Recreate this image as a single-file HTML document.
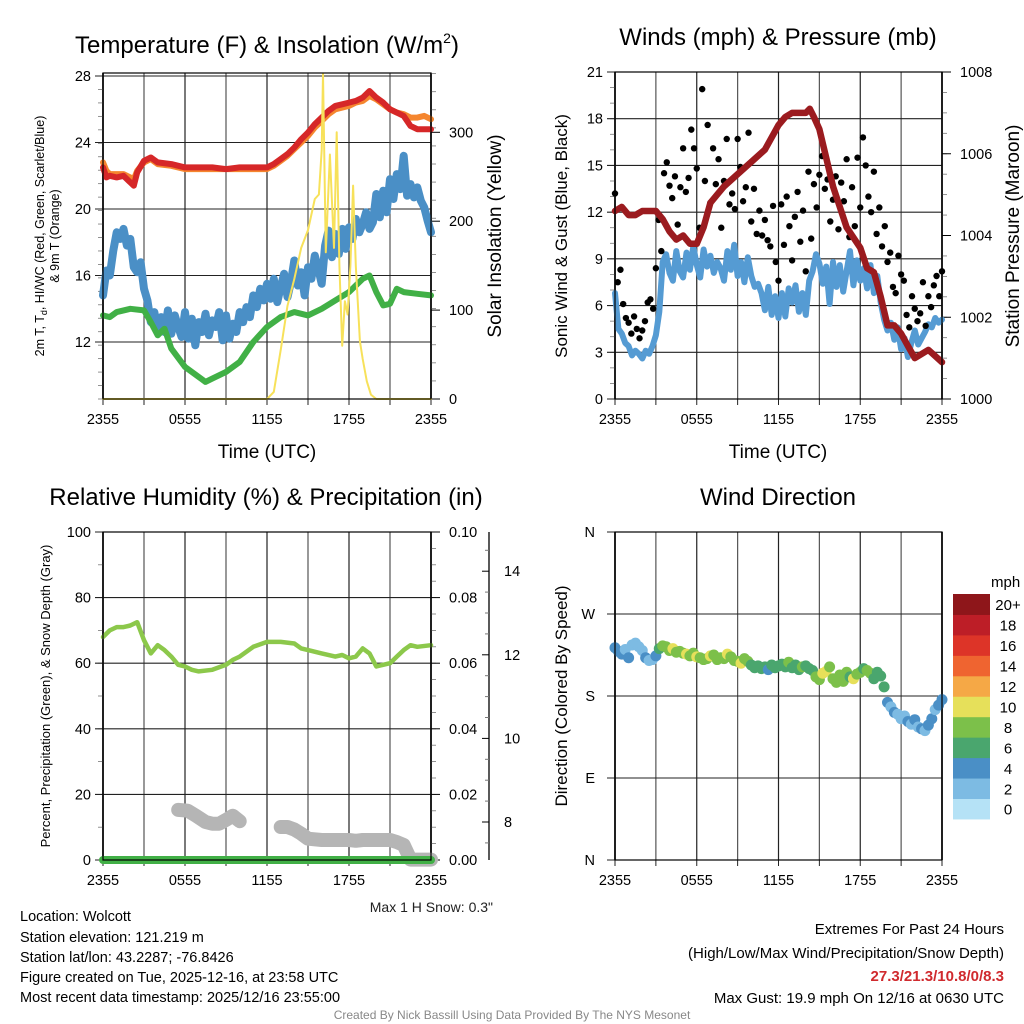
<!DOCTYPE html>
<html><head><meta charset="utf-8">
<style>
html,body{margin:0;padding:0;background:#fff;}
svg{display:block;font-family:"Liberation Sans",Arial,sans-serif;}
</style></head>
<body>
<svg id="chart" width="1024" height="1024" viewBox="0 0 1024 1024" xmlns="http://www.w3.org/2000/svg">
<rect width="1024" height="1024" fill="#fff"/>
<g id="layer"></g>
<!-- titles -->
<text x="267" y="53" font-size="24" text-anchor="middle">Temperature (F) &amp; Insolation (W/m<tspan font-size="14" dy="-10">2</tspan><tspan dy="10">)</tspan></text>
<text x="778" y="45" font-size="24" text-anchor="middle">Winds (mph) &amp; Pressure (mb)</text>
<text x="266" y="505" font-size="24" text-anchor="middle">Relative Humidity (%) &amp; Precipitation (in)</text>
<text x="778" y="505" font-size="24" text-anchor="middle">Wind Direction</text>
<!-- axis titles -->
<text x="267" y="458" font-size="19" text-anchor="middle">Time (UTC)</text>
<text x="778" y="458" font-size="19" text-anchor="middle">Time (UTC)</text>
<text transform="translate(44,236) rotate(-90)" font-size="12.5" text-anchor="middle"><tspan x="0" y="0">2m T, T<tspan font-size="9" dy="3">d</tspan><tspan dy="-3">, HI/WC (Red, Green, Scarlet/Blue)</tspan></tspan><tspan x="0" y="15">&amp; 9m T (Orange)</tspan></text>
<text transform="translate(501,236) rotate(-90)" font-size="19" text-anchor="middle">Solar Insolation (Yellow)</text>
<text transform="translate(567,236) rotate(-90)" font-size="17" text-anchor="middle">Sonic Wind &amp; Gust (Blue, Black)</text>
<text transform="translate(1019,236) rotate(-90)" font-size="19" text-anchor="middle">Station Pressure (Maroon)</text>
<text transform="translate(50,696) rotate(-90)" font-size="13" text-anchor="middle">Percent, Precipitation (Green), &amp; Snow Depth (Gray)</text>
<text transform="translate(567,696) rotate(-90)" font-size="17" text-anchor="middle">Direction (Colored By Speed)</text>
<text x="493" y="912" font-size="14" text-anchor="end" fill="#222">Max 1 H Snow: 0.3"</text>
<!-- info -->
<g font-size="14.5" fill="#000">
<text x="20" y="921">Location: Wolcott</text>
<text x="20" y="942">Station elevation: 121.219 m</text>
<text x="20" y="962">Station lat/lon: 43.2287; -76.8426</text>
<text x="20" y="982">Figure created on Tue, 2025-12-16, at 23:58 UTC</text>
<text x="20" y="1002">Most recent data timestamp: 2025/12/16 23:55:00</text>
</g>
<g font-size="15" text-anchor="end">
<text x="1004" y="934">Extremes For Past 24 Hours</text>
<text x="1004" y="958">(High/Low/Max Wind/Precipitation/Snow Depth)</text>
<text x="1004" y="981" fill="#d02a2e" font-weight="bold">27.3/21.3/10.8/0/8.3</text>
<text x="1004" y="1003">Max Gust: 19.9 mph On 12/16 at 0630 UTC</text>
</g>
<text x="512" y="1019" font-size="12" fill="#888" text-anchor="middle">Created By Nick Bassill Using Data Provided By The NYS Mesonet</text>
</svg>
<script>
// ---------- data ----------
const timeLabels = ["2355","0555","1155","1755","2355"];
const tempHours = [0,0.25,0.5,1,1.5,2,2.25,2.5,3,3.5,4,5,6,7,8,9,10,11,12,12.5,13,13.5,14,14.5,15,15.5,16,16.5,17,17.5,18,18.5,19,19.5,20,20.5,21,21.5,22,22.5,23,23.5,24];
const temp2m = [22.5,21.9,22,21.9,22,21.6,21.4,22.2,22.9,23.1,22.8,22.7,22.5,22.5,22.5,22.4,22.5,22.5,22.5,22.7,23,23.3,23.7,24.2,24.6,25.1,25.5,25.9,26.2,26.3,26.4,26.5,26.7,27.1,26.7,26.4,26,25.8,25.6,25,24.8,24.8,24.8];
const temp9m = [22.8,22.3,22.1,22.1,22.1,21.9,21.8,22.3,22.8,23,22.7,22.6,22.4,22.4,22.4,22.4,22.4,22.4,22.4,22.6,22.9,23.2,23.6,24,24.4,24.9,25.3,25.7,26,26.1,26.2,26.4,26.5,26.8,26.6,26.3,26,25.8,25.7,25.5,25.5,25.6,25.4];
const dewHours = [0,0.5,1,2,3,3.5,4,4.5,5,6,7,7.5,8,9,10,11,12,13,14,15,16,17,18,19,19.5,20,20.5,21,21.5,22,23,24];
const dewpoint = [13.6,13.5,13.8,14,13.9,13.2,12.4,12.8,11.6,10.5,9.9,9.6,9.8,10.2,10.8,12,12.9,13.5,13.8,13.6,14,14.5,15,15.8,16,15,14.2,14.3,15.2,15,14.9,14.8];
const windChill = [14.8,16.3,16,17.5,18.6,18.2,18.8,17.8,18.2,16.5,16.2,16.8,15.2,
14.5,13.2,13.8,12.8,13.5,12.6,13.9,12.5,13.6,12.9,12.3,13.8,
12.2,13.4,11.8,13.2,12.6,13.7,12.4,13.3,12.9,13.8,12.1,13.6,
12.2,13.1,12.6,13.8,13.2,14.1,13.5,14.8,14.1,15.2,14.5,15.5,
14.6,15.8,14.4,15.3,16.1,14.7,15.6,16.9,15.4,16.2,14.8,16.5,
15.8,17.2,16.4,15.5,17.8,18.7,17.1,18.5,17.3,18.8,17.6,18.9,
18.2,19.4,18.6,19.1,19.8,18.8,19.2,20.9,19.5,21.1,19.8,21.8,
20.6,22.1,21.2,23.2,20.8,21.5,20.7,21.3,20.5,20.1,19.3,18.6];
const solarHours = [0,12,12.5,13,13.5,14,14.5,15,15.5,15.8,16,16.1,16.3,16.6,16.9,17.1,17.3,17.5,17.7,17.9,18.1,18.3,18.5,18.8,19,19.3,19.6,20,24];
const solar = [0,0,8,55,105,135,170,190,225,230,280,366,165,275,170,300,150,60,110,95,150,240,150,65,45,20,5,0,0];
const tempTicks = [12,16,20,24,28];
const solarTicks = [0,100,200,300];

const windSpeed = [6.8,4.5,4.2,3.6,3.4,2.8,3.1,2.9,2.6,3.1,2.9,3.4,4.1,
5.6,8.8,9.3,8.1,7.6,9.5,8.2,7.8,9.4,8.3,9.8,8.6,
7.8,9.6,8.5,9.2,8.1,8.8,8.4,7.6,9.5,8.3,9.9,7.9,
8.8,7.5,9.1,7.9,7.2,7.4,6.8,5.7,7.2,5.4,6.6,5.2,
6.8,5.3,7.1,6.2,7.3,5.6,6.8,5.4,7.6,8.2,9.3,8.7,
7.4,8.5,6.1,8.8,7.2,8.6,6.9,8.2,9.5,7.3,8.9,7.6,
8.4,7.1,8.6,6.8,7.9,6.2,5.1,4.4,4.9,3.8,4.6,3.2,
3.9,2.7,3.6,4.4,3.5,3.9,4.3,4.8,4.6,5.2,4.9,5.1];
const gusts = [13.2,7.5,8.3,6.1,5.2,4.9,4.2,5.3,4.5,3.9,4.4,5.0,6.2,6.4,5.8,
8.4,11.5,9.5,14.5,15.2,13.7,12.9,14.3,11.2,13.6,16.1,13.3,14.2,17.3,16.1,14.8,
11.0,19.9,14.0,17.6,12.6,16.1,13.8,15.4,11.0,14.0,16.7,12.5,13.2,12.2,16.7,
14.9,12.7,13.6,17.1,11.4,13.5,10.6,12.1,10.5,11.5,10.2,9.8,12.4,8.8,7.6,
12.5,9.9,13.0,11.1,8.9,11.7,13.3,10.1,12.1,8.2,14.6,10.3,13.8,12.3,14.4,
15.6,13.5,14.1,11.4,12.8,14.3,10.9,13.9,12.7,15.4,10.4,13.6,11.1,15.5,12.3,
16.8,15.0,13.0,12.0,14.6,10.6,12.3,9.8,11.1,8.8,9.4,7.2,6.8,9.2,8.0,
7.6,5.4,4.6,6.6,5.8,5.0,5.5,7.5,4.7,6.6,5.9,7.3,7.9,6.6,8.2];
const presHours = [0,0.5,1,1.5,2,3,3.5,4,4.5,5,5.5,6,6.5,7,7.5,8,9,10,11,12,12.5,13,14,14.3,14.6,15,15.5,16,17,18,18.5,19,19.5,20,20.5,21,21.5,22,23,24];
const pressure = [1004.6,1004.7,1004.5,1004.5,1004.6,1004.6,1004.4,1004.1,1003.9,1004.0,1003.8,1003.8,1004.2,1004.8,1005.0,1005.2,1005.5,1005.8,1006.1,1006.7,1006.9,1007.0,1007.0,1007.1,1006.9,1006.6,1005.9,1005.2,1004.2,1003.7,1003.2,1003.1,1002.5,1001.8,1001.8,1001.6,1001.3,1001.0,1001.2,1000.9];
const windTicks = [0,3,6,9,12,15,18,21];
const presTicks = [1000,1002,1004,1006,1008];

const rhHours = [0,0.5,1,1.5,2,2.5,3,3.5,4,4.5,5,5.5,6,6.5,7,8,9,9.5,10,11,12,13,14,14.5,15,16,17,17.5,18,18.5,19,19.5,20,20.5,21,21.5,22,22.5,23,24];
const rh = [68,70,71,71,71.5,72.5,67,63,65.5,64,62,59.5,59,58,57.5,58,59.5,61,62,65,66.5,66.5,66,64.5,64,63,62,62.5,61.5,62,64.5,63,59,59.5,60,62,64,65.5,65,65.5];
const precipHours = [0,24];
const precip = [0,0];
const snowHours1 = [5.5,6.2,6.8,7.5,8,8.5,9,9.5,10];
const snow1 = [8.29,8.27,8.15,8.0,7.96,7.96,8.05,8.15,8.02];
const snowHours2 = [13,13.5,14,14.5,15,16,17,18,18.5,19,20,21,21.5,22,22.5,23,24];
const snow2 = [7.88,7.88,7.82,7.72,7.6,7.57,7.57,7.57,7.55,7.57,7.57,7.57,7.52,7.45,7.1,7.1,7.1];
const rhTicks = [0,20,40,60,80,100];
const precipTicks = ["0.00","0.02","0.04","0.06","0.08","0.10"];
const snowTicks = [8,10,12,14];

const dirDeg = [233,229,226,231,222,236,238,234,230,222,219,220,224,
232,235,234,230,232,228,229,227,226,224,227,223,
222,220,221,224,225,220,222,221,226,223,219,218,
216,221,218,214,211,213,210,212,209,214,211,213,
215,212,217,211,214,209,212,213,210,208,201,198,
205,207,212,199,195,203,196,206,201,199,204,206,
210,208,205,199,206,202,190,173,168,162,160,155,
158,152,149,154,146,144,142,148,155,165,170,176];
const dirSpeed = [5,4.5,4.2,3.5,4.1,2.8,3,2.5,3.2,4.3,2.9,3.1,4.5,
7,8.3,9,8.6,10.2,9.1,8.5,8.2,10.5,9.3,8.7,10.1,
8.4,9.2,8.3,10.4,8.8,8.1,9.5,8.3,10.6,8.4,9,8.2,
10.3,8.5,8.1,7.2,6.5,7.1,6.4,7.8,5.8,6.9,6.2,7.4,
7.1,6.3,8.2,7.5,6.6,7.2,8.1,6.9,6.4,7.8,8.5,9.1,
10.5,10.7,8.6,9.2,8.8,8.2,9.1,8.5,7.4,10.3,8.8,9.4,
7.5,8.7,9.2,6.4,7.8,7.1,6.3,4.5,3.5,4.2,3.8,2.5,
3.1,4.4,2.6,4.3,3.2,5.1,3.6,4.5,4.1,3.8,4.6,4.9];
const dirLabels = ["N","E","S","W","N"];
const speedBinLabels = ["0","2","4","6","8","10","12","14","16","18","20+"];
const speedBinColors = ["#b5e2f6","#7dbbe3","#4a8fc6","#4aa66e","#7cc04a","#e6e05a","#f5a846","#ef6430","#dd3428","#bd1e27","#8e161a"];

// ---------- drawing ----------
const NS="http://www.w3.org/2000/svg";
const root=document.getElementById('layer');
function mk(tag,parent){const e=document.createElementNS(NS,tag);(parent||root).appendChild(e);return e;}
function pts(hs,vs,X,Y){return hs.map((h,i)=>X(h).toFixed(1)+','+Y(vs[i]).toFixed(1)).join(' ');}
function stepHours(n){const a=[];for(let i=0;i<n;i++)a.push(i*24/(n-1));return a;}

function panel(x0,x1,y0,y1,name){
  const g=mk('g');
  
  
  const X=h=>x0+(x1-x0)*h/24;
  for(let h=0;h<=24;h+=3){
    const l=mk('line',g);
    
    
    l.setAttribute('x1',X(h));l.setAttribute('x2',X(h));l.setAttribute('y1',y0);l.setAttribute('y2',y1);
    l.setAttribute('stroke',h%6==0?'#222':'#555');l.setAttribute('stroke-width',h==0||h==24?1.8:1.2);
    const t=mk('line',g);
    t.setAttribute('x1',X(h));t.setAttribute('x2',X(h));t.setAttribute('y1',y1);t.setAttribute('y2',y1+6);t.setAttribute('stroke','#222');
  }
  timeLabels.forEach((s,i)=>{
    const t=mk('text',g);
    
    
    t.setAttribute('x',X(i*6));t.setAttribute('y',y1+25);t.setAttribute('font-size','14.5');t.setAttribute('text-anchor','middle');
    t.textContent=s;
  });
  return {g,X};
}
function hgrid(g,x0,x1,y,label,side,lx){
  const l=mk('line',g);
  
  
  l.setAttribute('x1',x0-(side=='L'?8:0));l.setAttribute('x2',x1+(side=='R'?8:0));l.setAttribute('y1',y);l.setAttribute('y2',y);
  l.setAttribute('stroke','#222');l.setAttribute('stroke-width','1.1');
  if(label!==null){
    const t=mk('text',g);
    
    
    t.setAttribute('x',lx);t.setAttribute('y',y+5);t.setAttribute('font-size','14.5');
    t.setAttribute('text-anchor',side=='L'?'end':'start');
    t.textContent=label;
  }
}
function minorTicks(g,x,y0,y1,n,dir){
  for(let i=0;i<=n;i++){const y=y0+(y1-y0)*i/n;const l=mk('line',g);
    l.setAttribute('x1',x);l.setAttribute('x2',x+dir*5);l.setAttribute('y1',y);l.setAttribute('y2',y);l.setAttribute('stroke','#777');l.setAttribute('stroke-width','0.8');}
}
function frame(g,x0,x1,y0,y1){
  const r=mk('rect',g);
  r.setAttribute('x',x0);r.setAttribute('y',y0);r.setAttribute('width',x1-x0);r.setAttribute('height',y1-y0);
  r.setAttribute('fill','none');r.setAttribute('stroke','#000');r.setAttribute('stroke-width','1.2');
}
function line(g,hs,vs,X,Y,color,w,name){
  const p=mk('polyline',g);
  
  
  p.setAttribute('points',pts(hs,vs,X,Y));p.setAttribute('fill','none');p.setAttribute('stroke',color);
  p.setAttribute('stroke-width',w);p.setAttribute('stroke-linejoin','round');p.setAttribute('stroke-linecap','round');
  return p;
}

// Panel 1: temperature
(function(){
  const x0=103,x1=431,y0=73,y1=399;
  const {g,X}=panel(x0,x1,y0,y1,'temperature-panel');
  const Y=v=>76+(28-v)*16.625;
  const YS=v=>399-v*0.889;
  minorTicks(g,x0,Y(28),y1,24,-1);
  minorTicks(g,x1,YS(366),y1,18,1);
  tempTicks.forEach(v=>hgrid(g,x0,x1,Y(v),String(v),'L',x0-12));
  solarTicks.forEach(v=>{const t=mk('text',g);t.setAttribute('x',x1+18);t.setAttribute('y',YS(v)+5);t.setAttribute('font-size','14.5');t.textContent=v;
    const l=mk('line',g);l.setAttribute('x1',x1);l.setAttribute('x2',x1+9);l.setAttribute('y1',YS(v));l.setAttribute('y2',YS(v));l.setAttribute('stroke','#000');});
  line(g,stepHours(windChill.length),windChill,X,Y,'#4a8fc6',8,'wind-chill-line');
  line(g,dewHours,dewpoint,X,Y,'#41b046',6,'dewpoint-line');
  line(g,tempHours,temp9m,X,Y,'#f5862f',6,'temp-9m-line');
  line(g,tempHours,temp2m,X,Y,'#d62728',6,'temp-2m-line');
  line(g,solarHours,solar,X,YS,'#f7e15a',2,'solar-line');
  frame(g,x0,x1,y0,y1);
})();

// Panel 2: winds
(function(){
  const x0=615,x1=942,y0=72,y1=399;
  const {g,X}=panel(x0,x1,y0,y1,'winds-panel');
  const Y=v=>399-v*15.571;
  const YP=v=>399-(v-1000)*40.875;
  minorTicks(g,x0,y0,y1,21,-1);
  minorTicks(g,x1,y0,y1,16,1);
  windTicks.forEach(v=>hgrid(g,x0,x1,Y(v),String(v),'L',x0-12));
  presTicks.forEach(v=>{const t=mk('text',g);t.setAttribute('x',x1+18);t.setAttribute('y',YP(v)+5);t.setAttribute('font-size','14.5');t.textContent=v;
    const l=mk('line',g);l.setAttribute('x1',x1);l.setAttribute('x2',x1+9);l.setAttribute('y1',YP(v));l.setAttribute('y2',YP(v));l.setAttribute('stroke','#000');});
  line(g,stepHours(windSpeed.length),windSpeed,X,Y,'#559bd3',6,'sonic-wind-line');
  const gh=stepHours(gusts.length);
  gusts.forEach((v,i)=>{const c=mk('circle',g);
    
    
    c.setAttribute('cx',X(gh[i]));c.setAttribute('cy',Y(v));c.setAttribute('r','3.2');c.setAttribute('fill','#000');});
  line(g,presHours,pressure,X,YP,'#9b1b1f',6.5,'pressure-line');
  frame(g,x0,x1,y0,y1);
})();

// Panel 3: humidity
(function(){
  const x0=103,x1=431,y0=532,y1=860;
  const {g,X}=panel(x0,x1,y0,y1,'humidity-panel');
  const Y=v=>860-v*3.28;
  const YSn=v=>822-(v-8)*41.8;
  minorTicks(g,x0,y0,y1,10,-1);
  minorTicks(g,x1,y0,y1,20,1);
  rhTicks.forEach(v=>hgrid(g,x0,x1,Y(v),String(v),'L',x0-12));
  precipTicks.forEach((s,i)=>{const y=Y(i*20);const t=mk('text',g);t.setAttribute('x',x1+18);t.setAttribute('y',y+5);t.setAttribute('font-size','14.5');t.textContent=s;
    const l=mk('line',g);l.setAttribute('x1',x1);l.setAttribute('x2',x1+9);l.setAttribute('y1',y);l.setAttribute('y2',y);l.setAttribute('stroke','#000');});
  const sa=mk('line',g);
  
  
  sa.setAttribute('x1',489);sa.setAttribute('x2',489);sa.setAttribute('y1',y0);sa.setAttribute('y2',y1);sa.setAttribute('stroke','#000');sa.setAttribute('stroke-width','1.3');
  for(let v=7.5;v<=14.9;v+=0.5){const y=YSn(v);const l=mk('line',g);const major=snowTicks.includes(v);
    l.setAttribute('x1',489);l.setAttribute('x2',major?482:485);l.setAttribute('y1',y);l.setAttribute('y2',y);l.setAttribute('stroke',major?'#000':'#777');}
  snowTicks.forEach(v=>{const t=mk('text',g);t.setAttribute('x',504);t.setAttribute('y',YSn(v)+5);t.setAttribute('font-size','14.5');t.textContent=v;});
  line(g,rhHours,rh,X,Y,'#8cc84b',4.5,'rh-line');
  line(g,snowHours1,snow1,X,YSn,'#b5b5b5',14,'snow-depth-line-1');
  line(g,snowHours2,snow2,X,YSn,'#b5b5b5',14,'snow-depth-line-2');
  line(g,precipHours,precip,X,Y,'#41b046',8,'precip-line');
  frame(g,x0,x1,y0,y1);
})();

// Panel 4: wind direction
(function(){
  const x0=615,x1=942,y0=532,y1=860;
  const {g,X}=panel(x0,x1,y0,y1,'direction-panel');
  const Y=v=>860-v*(328/360);
  dirLabels.forEach((s,i)=>hgrid(g,x0,x1,Y(i*90),s,'L',x0-20));
  const dh=stepHours(dirDeg.length);
  dirDeg.forEach((v,i)=>{const c=mk('circle',g);
    
    
    const b=Math.min(10,Math.floor(dirSpeed[i]/2));
    c.setAttribute('cx',X(dh[i]));c.setAttribute('cy',Y(v));c.setAttribute('r','5.5');c.setAttribute('fill',speedBinColors[b]);});
  frame(g,x0,x1,y0,y1);
  const cb=mk('g');
  
  
  const h=20.45, top=594;
  speedBinLabels.forEach((s,i)=>{const k=10-i;
    const r=mk('rect',cb);
    
    
    r.setAttribute('x',953);r.setAttribute('y',top+k*h);r.setAttribute('width',37);r.setAttribute('height',h+0.5);r.setAttribute('fill',speedBinColors[i]);
    const t=mk('text',cb);
    
    
    t.setAttribute('x',1008);t.setAttribute('y',top+k*h+h/2+6);t.setAttribute('font-size','15');t.setAttribute('text-anchor','middle');t.textContent=s;});
  const u=mk('text',cb);
  
  
  u.setAttribute('x',991);u.setAttribute('y',587);u.setAttribute('font-size','15');u.textContent='mph';
})();
</script>
</body></html>
